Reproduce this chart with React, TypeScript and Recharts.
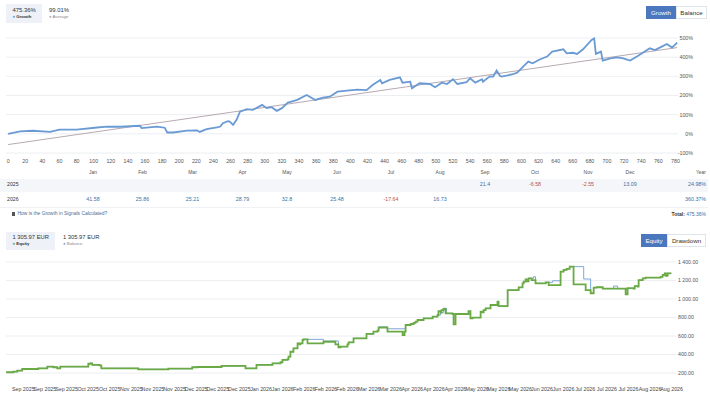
import { LineChart, Line, XAxis, YAxis, CartesianGrid } from 'recharts';

const FONT = '"Liberation Sans", Arial, sans-serif';

// growth chart (top)
const growthDays = [
  0, 14, 29, 49, 60, 80, 104, 115, 131, 154, 156, 174, 183, 186, 193, 209, 221, 224, 232, 244,
  248, 251, 257, 259, 263, 267, 271, 279, 286, 297, 302, 308, 314, 320, 327, 338, 349, 359, 368, 376,
  385, 396, 408, 419, 426, 435, 437, 446, 458, 461, 470, 472, 481, 493, 499, 507, 513, 520, 525, 536,
  540, 546, 554, 555, 563, 567, 571, 575, 577, 590, 595, 602, 608, 613, 622, 630, 636, 649, 653, 660,
  665, 672, 682, 685, 687, 693, 695, 704, 712, 719, 727, 735, 741, 750, 756, 764, 770, 776, 782,
];
const growthValues = [
  0, 13, 16, 10, 22, 22, 33, 38, 37, 42, 30, 38, 32, 7, 7, 17, 18, 10, 24, 34,
  38, 55, 66, 64, 47, 73, 116, 129, 125, 151, 134, 139, 120, 134, 163, 177, 203, 177, 189, 194,
  220, 225, 231, 228, 255, 281, 264, 281, 295, 267, 272, 238, 264, 260, 243, 267, 260, 285, 260, 270,
  290, 267, 285, 272, 300, 299, 330, 302, 299, 311, 319, 351, 377, 368, 389, 403, 429, 441, 420, 423,
  417, 441, 490, 498, 417, 429, 382, 394, 399, 394, 382, 403, 420, 446, 437, 455, 469, 450, 476,
];
const averageDays = [0, 782];
const averageValues = [-56, 450];
const dayTicks = [
  0, 20, 40, 60, 80, 100, 120, 140, 160, 180, 200, 220, 240, 260, 280, 300, 320, 340, 360, 380,
  400, 420, 440, 460, 480, 500, 520, 540, 560, 580, 600, 620, 640, 660, 680, 700, 720, 740, 760, 780,
];
const percentTicks = [-100, 0, 100, 200, 300, 400, 500];

// monthly table
const monthLabels = ['Jan', 'Feb', 'Mar', 'Apr', 'May', 'Jun', 'Jul', 'Aug', 'Sep', 'Oct', 'Nov', 'Dec'];
const yearLabels = ['2025', '2026'];
const returns2025 = [null, null, null, null, null, null, null, null, 21.4, -6.58, -2.55, 13.09];
const returns2026 = [41.58, 25.86, 25.21, 28.79, 32.8, 25.48, -17.64, 16.73, null, null, null, null];
const yearTotals = ['24.98%', '360.37%'];

// equity chart (bottom)
const equityTimes = [
  -7.9, -4.6, -2.8, -0.5, 6.9, 11.1, 13.9, 15.7, 17.1, 30.1, 31.0, 31.9, 35.2, 36.1, 53.2, 67.1, 78.2, 80.6, 91.7, 102.8,
  107.9, 115.3, 119.0, 119.9, 122.2, 122.7, 123.6, 125.0, 126.9, 127.8, 128.2, 129.2, 129.6, 131.5, 138.9, 144.4, 145.8, 146.8, 150.0, 150.5,
  152.8, 158.8, 162.0, 163.9, 164.4, 168.5, 175.5, 176.4, 176.9, 179.2, 180.6, 181.5, 182.4, 185.2, 189.4, 191.7, 192.1, 193.1, 193.5, 194.4,
  195.4, 198.6, 199.1, 200.0, 206.0, 206.9, 207.9, 211.6, 212.5, 213.0, 213.9, 216.2, 219.4, 219.9, 224.1, 229.2, 231.0, 231.5, 232.4, 232.9,
  233.8, 235.2, 237.0, 241.7, 243.1, 248.6, 250.0, 251.4, 252.8, 254.6, 260.2, 262.5, 263.9, 265.3, 268.1, 278.7, 279.6, 282.4, 282.9, 284.3,
  284.7, 286.6, 287.9, 294.9, 295.8, 296.8, 297.2, 298.1, 299.5,
];
const equityValues = [
  208, 214, 225, 243, 251, 268, 262, 251, 268, 300, 305, 287, 283, 251, 240, 247, 262, 265, 276, 251,
  287, 305, 316, 341, 348, 376, 430, 467, 521, 510, 521, 557, 564, 521, 538, 510, 478, 485, 510, 532,
  575, 622, 647, 658, 690, 647, 611, 647, 719, 730, 741, 755, 773, 791, 809, 827, 870, 852, 880, 892,
  845, 838, 727, 838, 870, 791, 798, 863, 856, 880, 899, 935, 971, 924, 1097, 1126, 1170, 1188, 1213, 1190,
  1224, 1205, 1170, 1180, 1151, 1295, 1314, 1325, 1350, 1159, 1097, 1062, 1122, 1127, 1112, 1051, 1118, 1112, 1140, 1135,
  1205, 1224, 1231, 1240, 1260, 1278, 1249, 1278, 1271,
];
const balanceTimes = [
  -7.9, -4.6, -2.8, -0.5, 6.9, 11.1, 13.9, 15.7, 17.1, 30.1, 31.0, 31.9, 35.2, 36.1, 53.2, 67.1, 78.2, 80.6, 91.7, 102.8,
  107.9, 115.3, 119.0, 119.9, 122.2, 122.7, 123.6, 125.0, 126.9, 127.8, 128.2, 129.2, 129.6, 138.9, 145.8, 150.0, 150.5, 152.8, 158.8, 162.0,
  163.9, 164.4, 168.5, 176.9, 179.2, 180.6, 181.5, 182.4, 185.2, 189.4, 191.7, 193.1, 194.4, 195.8, 198.6, 206.9, 211.6, 213.0, 213.9, 216.2,
  219.4, 219.9, 224.1, 229.2, 231.0, 231.5, 232.4, 233.8, 236.1, 237.0, 241.7, 244.9, 248.6, 250.0, 251.4, 252.8, 259.3, 262.5, 263.9, 265.3,
  268.1, 273.1, 275.0, 282.4, 282.9, 284.7, 286.6, 287.9, 294.9, 295.8, 296.8, 299.5,
];
const balanceValues = [
  208, 214, 225, 243, 251, 268, 262, 251, 268, 300, 305, 287, 283, 251, 240, 247, 262, 265, 276, 251,
  287, 305, 316, 341, 348, 376, 430, 467, 521, 510, 521, 557, 564, 546, 485, 510, 532, 575, 622, 647,
  658, 700, 678, 719, 730, 741, 755, 773, 791, 809, 827, 852, 900, 845, 838, 800, 863, 880, 899, 935,
  971, 924, 1097, 1126, 1170, 1188, 1213, 1224, 1241, 1170, 1180, 1197, 1295, 1314, 1325, 1350, 1216, 1062, 1122, 1127,
  1112, 1140, 1112, 1112, 1140, 1205, 1224, 1231, 1240, 1260, 1278, 1271,
];
const dateTicks = [
  0, 10, 20, 30, 40, 50, 60, 70, 80, 90, 100, 110, 120, 130, 140, 150,
  160, 170, 180, 190, 200, 210, 220, 230, 240, 250, 260, 270, 280, 290, 300,
];
const dateLabels = [
  'Sep 2025', 'Sep 2025', 'Sep 2025', 'Oct 2025', 'Oct 2025', 'Nov 2025', 'Nov 2025', 'Nov 2025',
  'Dec 2025', 'Dec 2025', 'Dec 2025', 'Jan 2026', 'Jan 2026', 'Feb 2026', 'Feb 2026', 'Feb 2026',
  'Mar 2026', 'Mar 2026', 'Apr 2026', 'Apr 2026', 'Apr 2026', 'May 2026', 'May 2026', 'May 2026',
  'Jun 2026', 'Jun 2026', 'Jul 2026', 'Jul 2026', 'Jul 2026', 'Aug 2026', 'Aug 2026',
];
const equityTicks = [200, 400, 600, 800, 1000, 1200, 1400];

const growthData = growthDays.map((day, i) => ({ day, growth: growthValues[i] }));
const averageData = averageDays.map((day, i) => ({ day, average: averageValues[i] }));
const equityData = equityTimes.map((t, i) => ({ t, equity: equityValues[i] }));
const balanceData = balanceTimes.map((t, i) => ({ t, balance: balanceValues[i] }));

// table column centres (layout)
const monthCenters = [93, 142.5, 192.5, 242.5, 287, 337, 391, 440, 485, 535, 588, 630];

const BLUE = '#3b6fa6';
const RED = '#c0504d';

const money = (v: number) => v.toFixed(2).replace(/\B(?=(\d{3})+(?!\d))/g, ' ');

type LabelProps = {
  x: number;
  y: number;
  size: number;
  color?: string;
  anchor?: 'start' | 'middle' | 'end';
  weight?: number;
  children: React.ReactNode;
};

const Label = ({ x, y, size, color = '#333', anchor = 'start', weight = 400, children }: LabelProps) => {
  const tx = anchor === 'middle' ? '-50%' : anchor === 'end' ? '-100%' : '0';
  return (
    <span
      style={{
        position: 'absolute',
        left: x,
        top: y,
        transform: `translate(${tx}, -50%)`,
        fontSize: size,
        lineHeight: 1,
        color,
        fontWeight: weight,
        whiteSpace: 'nowrap',
      }}
    >
      {children}
    </span>
  );
};

const Button = ({ x, y, w, h, active, children }: any) => (
  <div
    style={{
      position: 'absolute',
      left: x,
      top: y,
      width: w,
      height: h,
      boxSizing: 'border-box',
      background: active ? '#4a77bd' : '#fff',
      border: active ? '1px solid #4a77bd' : '1px solid #dfe3ea',
      color: active ? '#fff' : '#333',
      fontSize: 6.2,
      lineHeight: `${h - 2}px`,
      textAlign: 'center',
    }}
  >
    {children}
  </div>
);

const PercentTick = (props: any) => (
  <text x={props.x + 15} y={props.y} dy="0.35em" textAnchor="end" fontSize={5.3} fill="#555" fontFamily={FONT}>
    {props.payload.value}%
  </text>
);

const EquityTick = (props: any) => (
  <text x={props.x} y={props.y} dy="0.35em" textAnchor="start" fontSize={5.2} fill="#555" fontFamily={FONT}>
    {money(props.payload.value)}
  </text>
);

const cell = (v: number | null) => (v === null ? '' : String(v));

export default function App() {
  return (
    <div
      style={{
        position: 'absolute',
        left: 0,
        top: 0,
        width: 710,
        height: 400,
        overflow: 'hidden',
        background: '#fff',
        fontFamily: FONT,
      }}
    >
      {/* growth header */}
      <div style={{ position: 'absolute', left: 6, top: 4, width: 36, height: 19, background: '#eef1f8' }} />
      <Label x={12.5} y={10.5} size={5.9} color="#333">475.36%</Label>
      <Label x={12.5} y={16.8} size={4.3} color="#333" weight={700}>
        <span style={{ color: '#6a9ad4' }}>●</span> Growth
      </Label>
      <Label x={49} y={10.5} size={5.9} color="#333">99.01%</Label>
      <Label x={49} y={16.8} size={4.3} color="#888">
        <span style={{ color: '#aaa' }}>●</span> Average
      </Label>
      <Button x={646} y={6} w={30} h={13} active>Growth</Button>
      <Button x={676} y={6} w={31} h={13}>Balance</Button>

      {/* growth chart */}
      <div style={{ position: 'absolute', left: 0, top: 0 }}>
        <LineChart width={710} height={168} margin={{ top: 38, right: 0, bottom: 0, left: 6 }}>
          <CartesianGrid stroke="#eceef2" vertical={false} />
          <XAxis
            dataKey="day"
            type="number"
            domain={[-2.5, 783]}
            ticks={dayTicks}
            interval={0}
            axisLine={false}
            tickLine={false}
            tickSize={0}
            tickMargin={6}
            height={15}
            tick={{ fontSize: 5.3, fill: '#555', fontFamily: FONT }}
          />
          <YAxis
            orientation="right"
            width={32}
            type="number"
            domain={[-100, 500]}
            ticks={percentTicks}
            interval={0}
            axisLine={false}
            tickLine={false}
            tickSize={0}
            tickMargin={0}
            tick={PercentTick}
          />
          <Line
            data={averageData}
            dataKey="average"
            stroke="#b8a9b1"
            strokeWidth={1}
            dot={false}
            isAnimationActive={false}
          />
          <Line
            data={growthData}
            dataKey="growth"
            stroke="#6a9ad4"
            strokeWidth={1.8}
            dot={false}
            isAnimationActive={false}
          />
        </LineChart>
      </div>

      {/* monthly table */}
      {monthLabels.map((m, i) => (
        <Label key={m} x={monthCenters[i]} y={172.3} size={5} color="#555" anchor="middle">{m}</Label>
      ))}
      <Label x={706} y={172.3} size={5} color="#555" anchor="end">Year</Label>
      <div style={{ position: 'absolute', left: 0, top: 179, width: 708, height: 12.5, background: '#f5f6f9' }} />
      <div style={{ position: 'absolute', left: 0, top: 207, width: 708, height: 1, background: '#f0f1f4' }} />
      {[returns2025, returns2026].map((row, r) => (
        <div key={yearLabels[r]}>
          <Label x={7} y={r === 0 ? 185.3 : 200} size={5.2} color="#333">{yearLabels[r]}</Label>
          {row.map((v, i) =>
            v === null ? null : (
              <Label key={i} x={monthCenters[i]} y={r === 0 ? 185.3 : 200} size={5.3} color={v < 0 ? RED : BLUE} anchor="middle">
                {cell(v)}
              </Label>
            )
          )}
          <Label x={706} y={r === 0 ? 185.3 : 200} size={5.3} color={BLUE} anchor="end">{yearTotals[r]}</Label>
        </div>
      ))}
      <div style={{ position: 'absolute', left: 11.5, top: 212, width: 3.5, height: 3.5, background: '#555' }} />
      <Label x={17.5} y={214} size={4.9} color="#4d6d92">How is the Growth in Signals Calculated?</Label>
      <Label x={706} y={214} size={5} color="#333" anchor="end">
        <b>Total: </b>
        <span style={{ color: BLUE }}>475.36%</span>
      </Label>

      {/* equity header */}
      <div style={{ position: 'absolute', left: 6, top: 232, width: 49, height: 18, background: '#eef1f8' }} />
      <Label x={12.5} y={238.3} size={5.8} color="#333">1 305.97 EUR</Label>
      <Label x={12.5} y={244.3} size={4.3} color="#333" weight={700}>
        <span style={{ color: '#6aaa45' }}>●</span> Equity
      </Label>
      <Label x={63} y={238.3} size={5.8} color="#333">1 305.97 EUR</Label>
      <Label x={63} y={244.3} size={4.3} color="#888">
        <span style={{ color: '#7ea6d8' }}>●</span> Balance
      </Label>
      <Button x={641} y={234} w={26} h={13} active>Equity</Button>
      <Button x={667} y={234} w={39} h={13}>Drawdown</Button>

      {/* equity chart */}
      <div style={{ position: 'absolute', left: 0, top: 240 }}>
        <LineChart width={710} height={160} margin={{ top: 22, right: 0, bottom: 7, left: 6 }}>
          <CartesianGrid stroke="#eceef2" vertical={false} />
          <XAxis
            dataKey="t"
            type="number"
            domain={[-8, 302]}
            ticks={dateTicks}
            interval={0}
            axisLine={false}
            tickLine={false}
            tickSize={0}
            tickMargin={14}
            height={20}
            tickFormatter={(v: number) => dateLabels[Math.round(v / 10)]}
            tick={{ fontSize: 5.3, fill: '#444', fontFamily: FONT }}
          />
          <YAxis
            orientation="right"
            width={34}
            type="number"
            domain={[200, 1400]}
            ticks={equityTicks}
            interval={0}
            axisLine={false}
            tickLine={false}
            tickSize={0}
            tickMargin={2}
            tick={EquityTick}
          />
          <Line
            data={balanceData}
            dataKey="balance"
            type="stepAfter"
            stroke="#7ea6d8"
            strokeWidth={1}
            dot={false}
            isAnimationActive={false}
          />
          <Line
            data={equityData}
            dataKey="equity"
            type="stepAfter"
            stroke="#6aaa45"
            strokeWidth={1.8}
            dot={false}
            isAnimationActive={false}
          />
        </LineChart>
      </div>
    </div>
  );
}
